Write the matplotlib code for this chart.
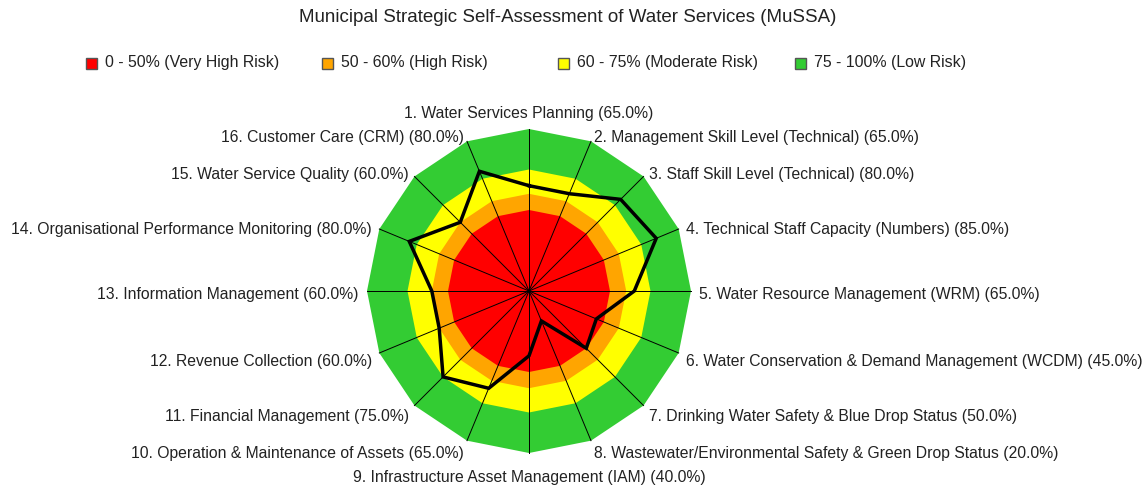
import numpy as np
import matplotlib.pyplot as plt
from matplotlib.patches import Polygon, Rectangle

plt.rcParams['font.family'] = ['Liberation Sans', 'DejaVu Sans']

categories = [
    "1. Water Services Planning",
    "2. Management Skill Level (Technical)",
    "3. Staff Skill Level (Technical)",
    "4. Technical Staff Capacity (Numbers)",
    "5. Water Resource Management (WRM)",
    "6. Water Conservation & Demand Management (WCDM)",
    "7. Drinking Water Safety & Blue Drop Status",
    "8. Wastewater/Environmental Safety & Green Drop Status",
    "9. Infrastructure Asset Management (IAM)",
    "10. Operation & Maintenance of Assets",
    "11. Financial Management",
    "12. Revenue Collection",
    "13. Information Management",
    "14. Organisational Performance Monitoring",
    "15. Water Service Quality",
    "16. Customer Care (CRM)",
]
scores = [65, 65, 80, 85, 65, 45, 50, 20, 40, 65, 75, 60, 60, 80, 60, 80]

band_limits = [100, 75, 60, 50]
band_colors = ['#33cc33', '#ffff00', '#ffa500', '#ff0000']
legend_labels = ['0 - 50% (Very High Risk)', '50 - 60% (High Risk)',
                 '60 - 75% (Moderate Risk)', '75 - 100% (Low Risk)']
legend_colors = ['#ff0000', '#ffa500', '#ffff00', '#33cc33']

W, H = 1148, 486
cx, cy, R = 529, 291, 162   # centre and radius in pixels

fig = plt.figure(figsize=(W / 100, H / 100), dpi=100)
ax = fig.add_axes([0, 0, 1, 1])
ax.set_xlim(-cx / R, (W - cx) / R)
ax.set_ylim(-(H - cy) / R, cy / R)
ax.axis('off')

n = len(categories)
theta = np.arange(n) * 2 * np.pi / n
ux, uy = np.sin(theta), np.cos(theta)

# risk bands
for lim, col in zip(band_limits, band_colors):
    r = lim / 100
    ax.add_patch(Polygon(np.column_stack([r * ux, r * uy]), closed=True,
                         facecolor=col, edgecolor='none', zorder=1))

# spokes
for x, y in zip(ux, uy):
    ax.plot([0, x], [0, y], color='black', lw=0.7, zorder=2)

# score polygon
s = np.array(scores) / 100
ax.plot(np.append(s * ux, s[0] * ux[0]), np.append(s * uy, s[0] * uy[0]),
        color='black', lw=2.5, zorder=3, solid_joinstyle='miter')

# labels
for i, (name, val) in enumerate(zip(categories, scores)):
    x, y = ux[i], uy[i]
    if abs(x) < 1e-6:
        ha = 'center'
    elif x > 0:
        ha = 'left'
    else:
        ha = 'right'
    if abs(y - 1) < 1e-6:
        va, dy = 'bottom', 5.5
    elif abs(y + 1) < 1e-6:
        va, dy = 'top', -12
    else:
        va = 'center'
        dy = 6 * y - (4 if y < -0.1 else 2.5)
    dx = 6 * x
    ax.annotate(f"{name} ({val:.1f}%)", (x, y), xytext=(dx, dy),
                textcoords='offset points', ha=ha, va=va, fontsize=11.3,
                color='#222222')

fig.text(568 / W, 1 - 18 / H, "Municipal Strategic Self-Assessment of Water Services (MuSSA)",
         ha='center', va='center', fontsize=13.5, color='#222222')

# legend
leg_x = [86, 322, 558, 795]
for x0, lab, col in zip(leg_x, legend_labels, legend_colors):
    fig.patches.append(Rectangle((x0 / W, 1 - 69 / H), 11 / W, 11 / H,
                                 transform=fig.transFigure, facecolor=col,
                                 edgecolor='#555555', lw=1))
    fig.text((x0 + 19) / W, 1 - 63 / H, lab, ha='left', va='center',
             fontsize=11.4, color='#222222')

fig.savefig('out.png', dpi=100)
